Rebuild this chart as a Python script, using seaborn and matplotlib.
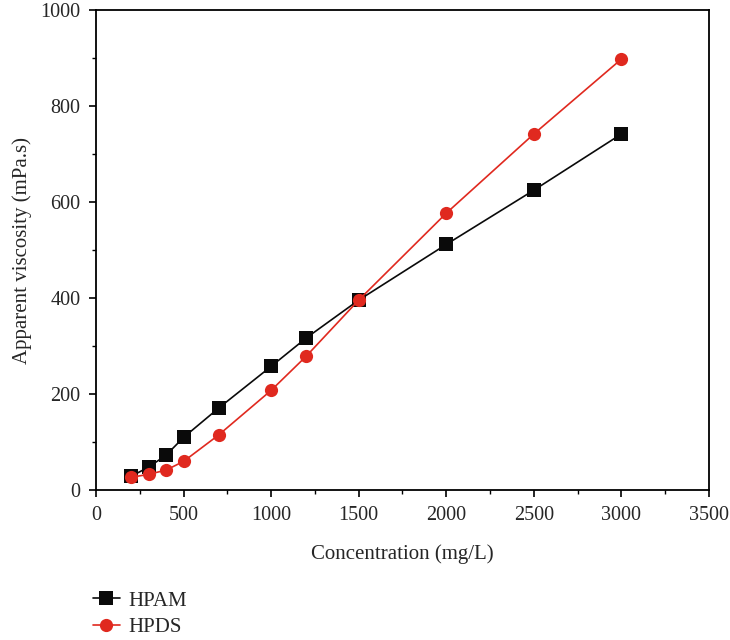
import numpy as np
import pandas as pd
import matplotlib
matplotlib.use("Agg")
import matplotlib.pyplot as plt
import seaborn as sns
from matplotlib.ticker import MultipleLocator

concentration = [200, 300, 400, 500, 700, 1000, 1200, 1500, 2000, 2500, 3000]
hpam = [29, 48, 73, 110, 171, 258, 317, 396, 512, 625, 742]
hpds = [27, 33, 42, 60, 115, 208, 279, 396, 577, 742, 898]
series_names = ["HPAM", "HPDS"]

df = pd.DataFrame({
    "Concentration": concentration * 2,
    "Viscosity": hpam + hpds,
    "Polymer": [series_names[0]] * len(hpam) + [series_names[1]] * len(hpds),
})

sns.set_style("ticks")
plt.rcParams["font.family"] = ["Liberation Serif", "DejaVu Serif"]
plt.rcParams["font.size"] = 14

fig = plt.figure(figsize=(7.3, 6.4), dpi=100)
ax = fig.add_axes([0.1315, 0.234, 0.8395, 0.75])

palette = {"HPAM": "#0a0a0a", "HPDS": "#e0291f"}
markers = {"HPAM": "s", "HPDS": "o"}
sns.lineplot(data=df, x="Concentration", y="Viscosity", hue="Polymer",
             style="Polymer", palette=palette, markers=markers, dashes=False,
             markersize=9.5, markeredgewidth=0, linewidth=1.2, ax=ax)

ax.set_xlim(0, 3500)
ax.set_ylim(0, 1000)
ax.xaxis.set_major_locator(MultipleLocator(500))
ax.xaxis.set_minor_locator(MultipleLocator(250))
ax.yaxis.set_major_locator(MultipleLocator(200))
ax.yaxis.set_minor_locator(MultipleLocator(100))
ax.tick_params(which="major", length=5, width=1.2, labelsize=14.5,
               color="black", pad=6)
ax.tick_params(which="minor", length=3, width=1.0, color="black")
for s in ax.spines.values():
    s.set_linewidth(1.3)
    s.set_color("black")

ax.set_xlabel("Concentration (mg/L)", fontsize=15, labelpad=14)
ax.set_ylabel("Apparent viscosity (mPa.s)", fontsize=15, labelpad=6)

handles, labels = ax.get_legend_handles_labels()
ax.legend(handles, labels, loc="upper left", bbox_to_anchor=(-0.005, -0.21),
          frameon=False, fontsize=15, handlelength=1.3, handletextpad=0.4,
          labelspacing=0.35, borderpad=0, borderaxespad=0)

fig.savefig("out.png", dpi=100, facecolor="white")
